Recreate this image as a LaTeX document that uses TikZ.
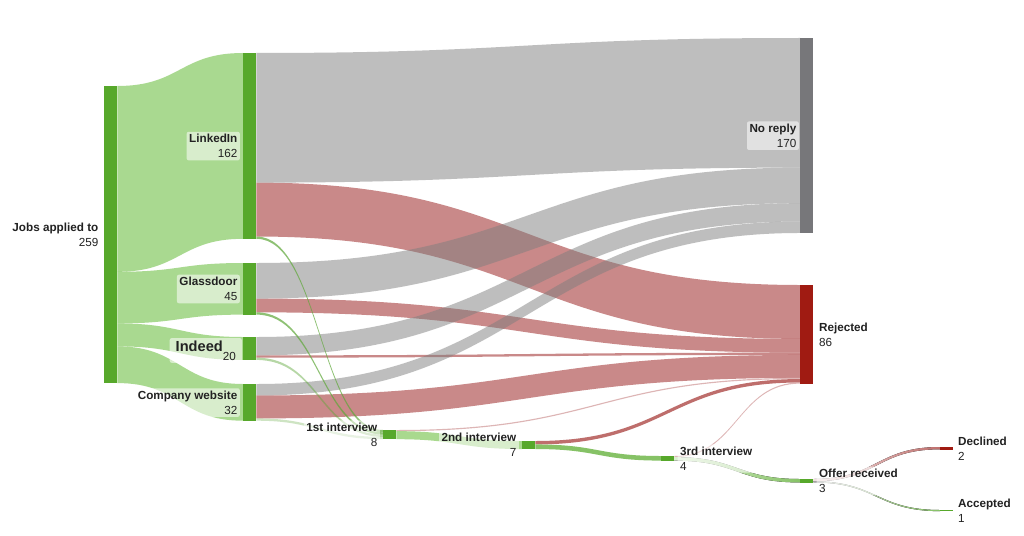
\documentclass[tikz,border=0pt]{standalone}
\usepackage{fontspec}
\setmainfont{Liberation Sans}
\usetikzlibrary{calc}
\definecolor{nodegreen}{HTML}{57A82B}
\definecolor{greenbase}{HTML}{55B523}
\definecolor{thinbase}{HTML}{5FA83A}
\definecolor{graybase}{HTML}{7F7F7F}
\definecolor{redbase}{HTML}{951414}
\definecolor{thingreen}{HTML}{86C266}
\definecolor{linkgreen}{HTML}{A9D98E}
\definecolor{graylink}{HTML}{BEBEBE}
\definecolor{nrnode}{HTML}{77777A}
\definecolor{darkredlink}{HTML}{BE6E6C}
\definecolor{paleredlink}{HTML}{DDB5B5}
\definecolor{rejnode}{HTML}{A01B12}
\definecolor{textcol}{HTML}{222222}
\def\sk{1.147}
\pgfdeclarelayer{bg}
\pgfdeclarelayer{flows}
\pgfsetlayers{bg,flows,main}
\tikzset{
  bar/.style={draw=none, inner sep=0pt, minimum width=13pt, minimum height={#1*1.147pt}, anchor=north west},
  lab/.style={font=\fontsize{11.7}{15}\selectfont, text=textcol, fill=white, fill opacity=0.55, text opacity=1, inner sep=2.5pt, rounded corners=2pt},
  labR/.style={lab, anchor=east, align=right},
  labL/.style={lab, anchor=west, align=left},
  glink/.style={fill=greenbase, fill opacity=0.5},
  gylink/.style={fill=graybase, fill opacity=0.5},
  rlink/.style={fill=redbase, fill opacity=0.5},
  tlink/.style={fill=thinbase, fill opacity=#1},
  tlink/.default=0.7
}
% source, source offset, target, target offset, thickness (units), style
\newcommand\flow[6]{%
  \coordinate (fs1) at ($(#1.north east)+(0,#2*\sk)$);
  \coordinate (ft1) at ($(#3.north west)+(0,#4*\sk)$);
  \coordinate (fs2) at ($(fs1)+(0,#5*\sk)$);
  \coordinate (ft2) at ($(ft1)+(0,#5*\sk)$);
  \coordinate (fm) at ($(fs1)!0.5!(ft1)$);
  \fill[#6] (fs1) .. controls (fm|-fs1) and (fm|-ft1) .. (ft1) -- (ft2)
     .. controls (fm|-ft2) and (fm|-fs2) .. (fs2) -- cycle;
}
\begin{document}
\begin{tikzpicture}[x=1pt,y=-1pt]
\begin{pgfonlayer}{bg}
\fill[white] (0,0) rectangle (1024,535);
\end{pgfonlayer}
\useasboundingbox (0,0) rectangle (1024,535);

% bars
\node[bar=259, fill=nodegreen] (jobs) at (104,86) {};
\node[bar=162, fill=nodegreen] (linkedin) at (243,53) {};
\node[bar=45, fill=nodegreen] (glassdoor) at (243,263) {};
\node[bar=20, fill=nodegreen] (indeed) at (243,337) {};
\node[bar=32, fill=nodegreen] (cw) at (243,384) {};
\node[bar=8, fill=nodegreen] (i1) at (383,430) {};
\node[bar=7, fill=nodegreen] (i2) at (522,441) {};
\node[bar=4, fill=nodegreen] (i3) at (661,456) {};
\node[bar=170, fill=nrnode] (nr) at (800,38) {};
\node[bar=86, fill=rejnode] (rej) at (800,285) {};
\node[bar=3, fill=nodegreen] (offer) at (800,479) {};
\node[bar=2, fill=rejnode] (declined) at (940,447) {};
\node[bar=1, fill=nodegreen] (accepted) at (940,510) {};

\begin{pgfonlayer}{flows}
% jobs to sources
\flow{jobs}{0}{linkedin}{0}{162}{glink}
\flow{jobs}{162}{glassdoor}{0}{45}{glink}
\flow{jobs}{207}{indeed}{0}{20}{glink}
\flow{jobs}{227}{cw}{0}{32}{glink}
% rejected
\flow{linkedin}{113}{rej}{0}{47}{rlink}
\flow{glassdoor}{31}{rej}{47}{12}{rlink}
\flow{indeed}{16}{rej}{59}{2}{rlink}
\flow{cw}{10}{rej}{61}{20}{rlink}
% no reply
\flow{linkedin}{0}{nr}{0}{113}{gylink}
\flow{glassdoor}{0}{nr}{113}{31}{gylink}
\flow{indeed}{0}{nr}{144}{16}{gylink}
\flow{cw}{0}{nr}{160}{10}{gylink}
% to 1st interview
\flow{linkedin}{160}{i1}{0}{2}{tlink}
\flow{glassdoor}{43}{i1}{2}{2}{tlink}
\flow{indeed}{18}{i1}{4}{2}{tlink=0.45}
\flow{cw}{30}{i1}{6}{2}{tlink=0.3}
% interviews
\flow{i1}{0}{rej}{81}{1}{fill=paleredlink}
\flow{i1}{1}{i2}{0}{7}{fill=linkgreen}
\flow{i2}{0}{rej}{82}{3}{fill=darkredlink}
\flow{i2}{3}{i3}{0}{4}{fill=thingreen}
\flow{i3}{0}{rej}{85}{1}{fill=paleredlink}
\flow{i3}{1}{offer}{0}{3}{{left color=linkgreen!40!white, right color=thingreen}}
\flow{offer}{0}{declined}{0}{2}{{left color=paleredlink!40!white, right color=darkredlink}}
\flow{offer}{2}{accepted}{0}{1}{{left color=graylink!60!white, right color=thingreen}}
\end{pgfonlayer}

% labels
\node[labR] (ljobs) at ($(jobs.west)+(-3,0)$) {\textbf{Jobs applied to}\\259};
\node[labR] (llinkedin) at ($(linkedin.west)+(-3,0)$) {\textbf{LinkedIn}\\162};
\node[labR] (lglassdoor) at ($(glassdoor.west)+(-3,0)$) {\textbf{Glassdoor}\\45};
\node[lab, anchor=base east, inner xsep=6pt] (lindeed) at ($(indeed.west)+(-1,2.5)$) {{\fontsize{14.6}{16}\selectfont\bfseries Indeed}\raisebox{-9pt}{20}};
\node[labR] (lcw) at ($(cw.west)+(-3,0)$) {\textbf{Company website}\\32};
\node[labR] (li1) at ($(i1.west)+(-3,0)$) {\textbf{1st interview}\\8};
\node[labR] (li2) at ($(i2.west)+(-3,0)$) {\textbf{2nd interview}\\7};
\node[labL] (li3) at ($(i3.east)+(3,0)$) {\textbf{3rd interview}\\4};
\node[labR] (lnr) at ($(nr.west)+(-1,0)$) {\textbf{No reply}\\170};
\node[labL] (lrej) at ($(rej.east)+(3,0)$) {\textbf{Rejected}\\86};
\node[labL] (loffer) at ($(offer.east)+(3,0)$) {\textbf{Offer received}\\3};
\node[labL] (ldeclined) at ($(declined.east)+(2,0)$) {\textbf{Declined}\\2};
\node[labL] (laccepted) at ($(accepted.east)+(2,0)$) {\textbf{Accepted}\\1};
\end{tikzpicture}
\end{document}
